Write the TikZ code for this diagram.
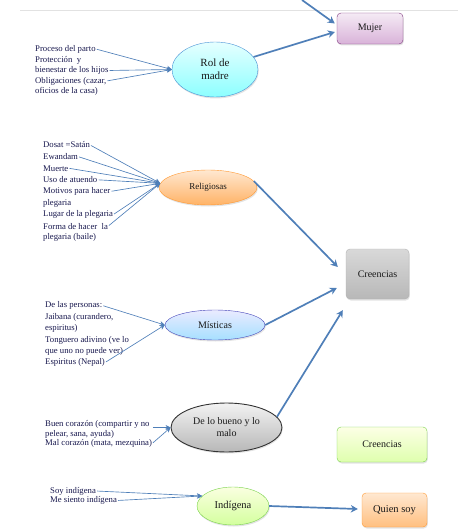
\documentclass[tikz,border=0pt]{standalone}
\usepackage{fontspec}
\setmainfont{Liberation Serif}
\usetikzlibrary{shapes.geometric,arrows.meta,calc,shadows}

\definecolor{inkblue}{HTML}{18184E}
\definecolor{linkblue}{HTML}{4F7FB8}
\definecolor{pagegray}{HTML}{E2E2E2}

\begin{document}
\begin{tikzpicture}[x=1pt,y=-1pt,
  lbl/.style={anchor=west, inner sep=0pt, text=inkblue,
    font=\fontsize{8.7}{10}\selectfont},
  feed/.style={draw=linkblue, line width=0.65pt, shorten <=1pt,
    -{Stealth[length=5pt,width=5pt]}},
  link/.style={draw=linkblue, line width=1.7pt,
    -{Stealth[length=7pt,width=7.5pt]}},
  soft/.style={drop shadow={shadow xshift=0.8pt, shadow yshift=-1.5pt, opacity=0.22}},
  oval/.style={ellipse, soft, inner sep=0pt, align=center, text=black!90,
    font=\fontsize{10}{12}\selectfont},
  tile/.style={rectangle, rounded corners=4pt, soft, inner sep=0pt,
    align=center, text=black!90, font=\fontsize{10}{12}\selectfont},
]
\useasboundingbox (0,0) rectangle (458,529);

% page edge
\draw[pagegray, line width=0.8pt] (20,10) -- (458,10);

% ---- nodes ----
\node[tile, draw=violet!55!gray, top color=violet!8, bottom color=violet!30,
  minimum width=66, minimum height=31] (mujer) at (370,28.5) {Mujer};

\node[oval, draw=cyan!60!blue!75, top color=cyan!10, bottom color=cyan!45,
  minimum width=86, minimum height=55, font=\fontsize{11}{13}\selectfont]
  (rol) at (215,69.5) {Rol de\\madre};

\node[oval, draw=orange!80, top color=orange!18, bottom color=orange!60,
  minimum width=98, minimum height=35, font=\fontsize{9}{11}\selectfont]
  (rel) at (208,187.5) {Religiosas};

\node[oval, draw=blue!45!gray, top color=blue!8, bottom color=blue!35!cyan!35,
  minimum width=100, minimum height=30] (mis) at (215,325) {Místicas};

\node[oval, draw=black!80, line width=0.9pt, top color=black!5, bottom color=black!28,
  minimum width=111, minimum height=49] (bueno) at (226.5,427.5) {De lo bueno y lo\\malo};

\node[oval, draw=green!50!olive!70, top color=green!15!yellow!12, bottom color=green!45!yellow!38,
  minimum width=72, minimum height=38, font=\fontsize{10.5}{12}\selectfont]
  (ind) at (233,506) {Indígena};

\node[tile, draw=black!30, top color=black!15, bottom color=black!28,
  minimum width=63, minimum height=50] (cre) at (377.5,274) {Creencias};

\node[tile, draw=green!50!olive!70, top color=green!10!yellow!10, bottom color=green!40!yellow!32,
  minimum width=90, minimum height=35] (cre2) at (382,444.5) {Creencias};

\node[tile, draw=orange!80, top color=orange!18, bottom color=orange!50,
  minimum width=65, minimum height=34, font=\fontsize{10.5}{12}\selectfont]
  (quien) at (394.5,510) {Quien soy};

% ---- texts: Rol de madre ----
\node[lbl] (r1) at (35,49) {Proceso del parto};
\node[lbl] (r2) at (35,60) {Protección\ \ y};
\node[lbl] (r3) at (35,70.5) {bienestar de los hijos};
\node[lbl] (r4) at (35,81) {Obligaciones (cazar,};
\node[lbl] (r5) at (35,91) {oficios de la casa)};

% ---- texts: Religiosas ----
\node[lbl] (g1) at (43,145) {Dosat =Satán};
\node[lbl] (g2) at (43,156.6) {Ewandam};
\node[lbl] (g3) at (43,168.2) {Muerte};
\node[lbl] (g4) at (43,179.8) {Uso de atuendo};
\node[lbl] (g5) at (43,191.4) {Motivos para hacer};
\node[lbl] (g6) at (43,203) {plegaria};
\node[lbl] (g7) at (43,214.6) {Lugar de la plegaria};
\node[lbl] (g8) at (43,226.2) {Forma de hacer\ \ la};
\node[lbl] (g9) at (43,237.8) {plegaria (baile)};

% ---- texts: Místicas ----
\node[lbl] (m1) at (45,305.5) {De las personas:};
\node[lbl] (m2) at (45,317) {Jaibana (curandero,};
\node[lbl] (m3) at (45,328.5) {espiritus)};
\node[lbl] (m4) at (45,340) {Tonguero adivino (ve lo};
\node[lbl] (m5) at (45,351.5) {que uno no puede ver)};
\node[lbl] (m6) at (45,362.5) {Espiritus (Nepal)};

% ---- texts: De lo bueno y lo malo ----
\node[lbl] (b1) at (45,424.5) {Buen corazón (compartir y no};
\node[lbl] (b2) at (45,434) {pelear, sana, ayuda)};
\node[lbl] (b3) at (45,443.5) {Mal corazón (mata, mezquina)};

% ---- texts: Indígena ----
\node[lbl] (i1) at (50,491) {Soy indígena};
\node[lbl] (i2) at (50,500.5) {Me siento indígena};

\coordinate (top) at (302,0);

% ---- feeding arrows ----
\foreach \s in {r1,r3,r4} \draw[feed] (\s.east) -- (rol.west);
\foreach \s in {g1,g2,g3,g4,g5,g7,g8} \draw[feed] (\s.east) -- (rel.175);
\foreach \s in {m1,m6} \draw[feed] (\s.east) -- (mis.west);
\draw[feed] ($(b1.east)+(2,3)$) -- (bueno.west);
\draw[feed] (b3.east) -- (bueno.west);
\foreach \s in {i1,i2} \draw[feed] (\s.east) -- (ind.162);

% ---- main arrows ----
\draw[link] (top) -- ($(mujer.west)+(-2,-5)$);
\draw[link] (rol.18) -- ($(mujer.west)+(-2,3.5)$);
\draw[link] (rel.8) -- ($(cre.west)+(-8,-7)$);
\draw[link] (mis.east) -- ($(cre.west)+(-9,14)$);
\draw[link] (bueno.12) -- ($(cre.south west)+(-3,11)$);
\draw[link] (ind.east) -- ($(quien.west)+(-4,-1)$);
\end{tikzpicture}
\end{document}
